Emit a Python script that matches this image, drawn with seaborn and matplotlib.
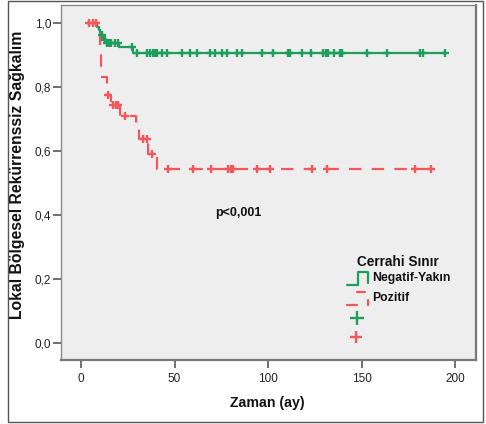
import numpy as np
import pandas as pd
import matplotlib
matplotlib.use("Agg")
import matplotlib.pyplot as plt
from matplotlib.lines import Line2D
from matplotlib.patches import Rectangle
import seaborn as sns

# ---- data ----
group_names = ["Negatif-Yakın", "Pozitif"]

neg_step_times = [3.0, 8.6, 9.6, 10.4, 12.1, 13.9, 20.2, 27.8, 194.7]
neg_step_surv = [1.0, 0.989, 0.978, 0.963, 0.948, 0.937, 0.925, 0.907, 0.907]
neg_censor_times = [11.2, 13.0, 13.9, 15.1, 16.2, 18.3, 19.8, 27.3, 29.8,
                    35.1, 36.9, 38.7, 39.6, 40.5, 43.2, 45.8, 53.9, 58.3, 61.9,
                    69.0, 71.7, 75.2, 77.9, 83.2, 85.9, 96.6, 102.8, 110.8,
                    111.8, 118.0, 122.8, 129.6, 130.9, 132.3, 135.3, 138.5,
                    139.4, 153.1, 163.5, 181.3, 183.1, 194.7]

pos_step_times = [3.0, 10.2, 10.9, 14.1, 15.9, 20.9, 29.2, 31.2, 36.0, 40.5, 187.2]
pos_step_surv = [1.0, 0.901, 0.833, 0.775, 0.744, 0.710, 0.685, 0.638, 0.590, 0.545, 0.545]
pos_censor_times = [4.1, 6.6, 7.8, 14.6, 17.3, 18.5, 19.9, 23.5, 33.3, 35.1,
                    38.1, 46.7, 60.1, 69.4, 78.8, 80.0, 81.5, 94.0, 101.2,
                    123.4, 131.4, 178.6, 187.2]

x_ticks = [0, 50, 100, 150, 200]
y_ticks = [0.0, 0.2, 0.4, 0.6, 0.8, 1.0]
y_tick_labels = ["0,0", "0,2", "0,4", "0,6", "0,8", "1,0"]
p_text = "p<0,001"
x_label = "Zaman (ay)"
y_label = "Lokal Bölgesel Rekürrenssiz Sağkalım"
legend_title = "Cerrahi Sınır"

GREEN = "#1e9e5c"
RED = "#f2575b"

# ---- style ----
sns.set_style("white")
plt.rcParams["font.family"] = ["Liberation Sans", "DejaVu Sans"]

W, H = 486, 424
fig = plt.figure(figsize=(W / 100, H / 100), dpi=100)
L, R, T, B = 60.5, 476, 5, 360
ax = fig.add_axes([L / W, 1 - B / H, (R - L) / W, (B - T) / H])
ax.set_facecolor("#eeeeee")


def surv_at(step_t, step_s, t):
    idx = np.searchsorted(np.asarray(step_t), np.asarray(t), side="right") - 1
    idx = np.clip(idx, 0, len(step_s) - 1)
    return np.asarray(step_s)[idx]


neg_curve = pd.DataFrame({"t": neg_step_times, "s": neg_step_surv})
pos_curve = pd.DataFrame({"t": pos_step_times, "s": pos_step_surv})
neg_cens = pd.DataFrame({"t": neg_censor_times,
                         "s": surv_at(neg_step_times, neg_step_surv, neg_censor_times)})
pos_cens = pd.DataFrame({"t": pos_censor_times,
                         "s": surv_at(pos_step_times, pos_step_surv, pos_censor_times)})

sns.lineplot(data=neg_curve, x="t", y="s", ax=ax, color=GREEN, lw=1.6,
             drawstyle="steps-post", estimator=None, sort=False, zorder=3)
sns.lineplot(data=pos_curve, x="t", y="s", ax=ax, color=RED, lw=1.6,
             drawstyle="steps-post", estimator=None, sort=False,
             linestyle=(0, (5.6, 4.6)), zorder=3)
sns.scatterplot(data=neg_cens, x="t", y="s", ax=ax, marker="+", s=30,
                color=GREEN, linewidth=1.7, zorder=4)
sns.scatterplot(data=pos_cens, x="t", y="s", ax=ax, marker="+", s=30,
                color=RED, linewidth=1.7, zorder=4)

ax.set_xlim(-10.96, 211.2)
ax.set_ylim(-0.054, 1.057)
ax.set_xticks(x_ticks)
ax.set_xticklabels([str(v) for v in x_ticks])
ax.set_yticks(y_ticks)
ax.set_yticklabels(y_tick_labels)
ax.tick_params(axis="both", direction="out", length=5.5, width=1.2,
               color="#555555", labelsize=8.5, labelcolor="#222222")
ax.tick_params(axis="x", pad=4.0)
ax.tick_params(axis="y", pad=1.2)
ax.tick_params(bottom=True, left=True)
for sp in ax.spines.values():
    sp.set_visible(True)
    sp.set_color("#8a8a8a")
    sp.set_linewidth(1.0)
ax.spines["right"].set_color("#777777")
ax.spines["right"].set_linewidth(1.6)
ax.spines["bottom"].set_color("#777777")
ax.spines["bottom"].set_linewidth(1.6)

ax.set_xlabel(x_label, fontsize=10.2, fontweight="bold", color="#111111")
ax.set_ylabel(y_label, fontsize=11.3, fontweight="bold", color="#111111")
ax.xaxis.set_label_coords((267.5 - L) / (R - L), (B - 403) / (B - T))
ax.xaxis.label.set_va("center")
ax.yaxis.set_label_coords((17.5 - L) / (R - L), (B - 175) / (B - T))
ax.yaxis.label.set_va("center")
ax.yaxis.label.set_rotation_mode("anchor")


def fx(x):
    return x / W


def fy(y):
    return 1 - y / H


fig.text(fx(238), fy(213.3), p_text, ha="center", va="center",
         fontsize=9, fontweight="bold", color="#111111")

# legend
fig.text(fx(397.7), fy(261.7), legend_title, ha="center", va="center",
         fontsize=9.8, fontweight="bold", color="#111111")
fig.add_artist(Line2D([fx(346.7), fx(358.3), fx(358.3), fx(368.3), fx(368.3)],
                      [fy(285), fy(285), fy(271.7), fy(271.7), fy(283)],
                      color=GREEN, lw=1.6))
fig.text(fx(371.7), fy(278.3), group_names[0], ha="left", va="center",
         fontsize=8.8, fontweight="bold", color="#111111")
fig.add_artist(Line2D([fx(346.7), fx(356.7)], [fy(305), fy(305)], color=RED, lw=1.6))
fig.add_artist(Line2D([fx(356.7), fx(365)], [fy(291.7), fy(291.7)], color=RED, lw=1.6))
fig.add_artist(Line2D([fx(367.7), fx(367.7)], [fy(299.5), fy(305)], color=RED, lw=1.6))
fig.text(fx(371.7), fy(298.3), group_names[1], ha="left", va="center",
         fontsize=8.8, fontweight="bold", color="#111111")
fig.add_artist(Line2D([fx(356.7)], [fy(318.3)], marker="+", markersize=9.5,
                      mew=1.7, color=GREEN, lw=0))
fig.add_artist(Line2D([fx(356)], [fy(337.3)], marker="+", markersize=8,
                      mew=1.7, color=RED, lw=0))

# outer frame
fig.add_artist(Rectangle((fx(8), fy(422)), fx(483) - fx(8), fy(1) - fy(422),
                         fill=False, edgecolor="#555555", lw=1.0,
                         transform=fig.transFigure))

fig.savefig("out.png", dpi=100)
